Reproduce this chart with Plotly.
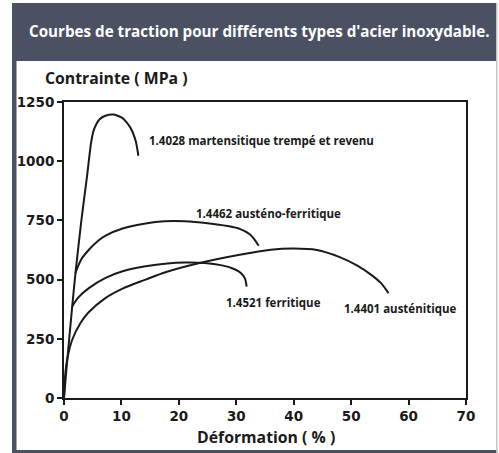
import plotly.graph_objects as go

# ---- data (Déformation %, Contrainte MPa) ----
martensitic_x = [0, 0.4, 1.43, 2.0, 3.0, 4.0, 4.7, 5.1, 5.6, 6.2, 7.2, 8.7, 10.2, 11.6, 12.5, 12.95]
martensitic_y = [0, 115, 387, 528, 745, 935, 1075, 1125, 1155, 1177, 1192, 1197, 1182, 1140, 1084, 1023]

duplex_x = [2.0, 3.0, 4.33, 6.0, 7.24, 10.2, 14.2, 17.5, 21, 25, 28.5, 30.6, 32.4, 33.9]
duplex_y = [528, 585, 626, 665, 686, 716, 737, 746, 746, 738, 726, 714, 690, 643]

ferritic_x = [1.43, 2.5, 4.33, 7.24, 10.2, 14.2, 18, 21, 24.5, 27.5, 29.5, 30.8, 31.5, 31.8]
ferritic_y = [387, 425, 464, 507, 535, 556, 568, 572, 570, 560, 546, 528, 505, 470]

austenitic_x = [0, 0.2, 0.55, 1.43, 2.9, 4.3, 7.2, 10.2, 14.2, 17.8, 23.6, 30.6, 36, 40, 44, 48, 51, 53.5, 55.2, 56.5]
austenitic_y = [0, 95, 162, 246, 318, 362, 422, 462, 500, 532, 570, 605, 626, 631, 625, 595, 560, 520, 485, 443]

x_ticks = [0, 10, 20, 30, 40, 50, 60, 70]
y_ticks = [0, 250, 500, 750, 1000, 1250]

labels = ["1.4028 martensitique trempé et revenu", "1.4462 austéno-ferritique",
          "1.4521 ferritique", "1.4401 austénitique"]
label_x = [14.4, 22.7, 27.9, 48.4]
label_y = [1089, 780, 405, 379]

title = "Courbes de traction pour différents types d'acier inoxydable."
ytitle = "Contrainte ( MPa )"
xtitle = "Déformation ( % )"

# ---- layout geometry ----
W, H = 499, 453
ML, MR, MT, MB = 64, 33, 102, 55
PW, PH = W - ML - MR, H - MT - MB

def px(x):
    return (x - ML) / PW

def py(y):
    return (H - MB - y) / PH

DARK = "#4b5163"
LINE = "#1a1a1a"
FONT = "Open Sans"

fig = go.Figure()
for xs, ys, sm in [(martensitic_x, martensitic_y, 0.6), (duplex_x, duplex_y, 0.9),
                   (ferritic_x, ferritic_y, 0.9), (austenitic_x, austenitic_y, 0.9)]:
    fig.add_trace(go.Scatter(x=xs, y=ys, mode="lines",
                             line=dict(color=LINE, width=2, shape="spline", smoothing=sm),
                             hoverinfo="skip", showlegend=False))

shapes = [
    dict(type="rect", xref="paper", yref="paper", x0=px(12), x1=px(497), y0=py(61), y1=py(3),
         fillcolor=DARK, line=dict(width=0), layer="below"),
    dict(type="rect", xref="paper", yref="paper", x0=px(12), x1=px(16.5), y0=py(453), y1=py(3),
         fillcolor=DARK, line=dict(width=0), layer="below"),
    dict(type="rect", xref="paper", yref="paper", x0=px(12), x1=px(497.5), y0=py(453), y1=py(450),
         fillcolor=DARK, line=dict(width=0), layer="below"),
    dict(type="rect", xref="paper", yref="paper", x0=px(496), x1=px(497.5), y0=py(453), y1=py(3),
         fillcolor="#c4c6cc", line=dict(width=0), layer="below"),
]

annotations = [
    dict(text=title, xref="paper", yref="paper", x=px(259), y=py(31), xanchor="center", yanchor="middle",
         showarrow=False, font=dict(family=FONT, size=15.2, color="white", weight="bold")),
    dict(text=ytitle, xref="paper", yref="paper", x=px(43), y=py(78), xanchor="left", yanchor="middle",
         showarrow=False, font=dict(family=FONT, size=15.8, color="#1a1a1a", weight="bold")),
    dict(text=xtitle, xref="paper", yref="paper", x=px(265.5), y=py(437), xanchor="center", yanchor="middle",
         showarrow=False, font=dict(family=FONT, size=15.8, color="#1a1a1a", weight="bold")),
]
for t, lx, ly in zip(labels, label_x, label_y):
    annotations.append(dict(text=t, x=lx, y=ly, xref="x", yref="y", xanchor="left", yanchor="middle",
                            showarrow=False, font=dict(family=FONT, size=11.5, color="#1a1a1a", weight="bold")))

tickfont = dict(family="DejaVu Sans", size=13.5, color="#1a1a1a", weight="bold")
fig.update_layout(
    width=W, height=H,
    margin=dict(l=ML, r=MR, t=MT, b=MB, pad=0),
    paper_bgcolor="white", plot_bgcolor="white",
    shapes=shapes, annotations=annotations,
    xaxis=dict(range=[0, 70], tickvals=x_ticks, ticktext=[str(v) for v in x_ticks],
               showgrid=False, zeroline=False, showline=True, linecolor=LINE, linewidth=2, mirror=True,
               ticks="outside", ticklen=5, tickwidth=2, tickcolor=LINE, tickfont=tickfont),
    yaxis=dict(range=[0, 1250], tickvals=y_ticks, ticktext=[str(v) for v in y_ticks],
               showgrid=False, zeroline=False, showline=True, linecolor=LINE, linewidth=2, mirror=True,
               ticks="outside", ticklen=5, tickwidth=2, tickcolor=LINE, tickfont=tickfont),
)

fig.write_html("out.html", config={"displayModeBar": False},
               post_script="document.body.style.margin='0px';")
